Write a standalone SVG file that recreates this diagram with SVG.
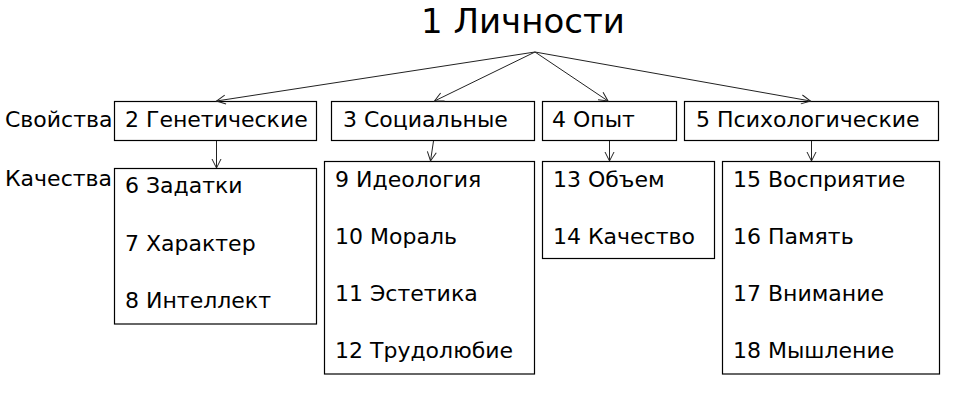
<svg xmlns="http://www.w3.org/2000/svg" width="957" height="400" viewBox="0 0 957 400">
<defs>
<marker id="arr" markerWidth="12" markerHeight="12" refX="10" refY="5" orient="auto" markerUnits="userSpaceOnUse">
<path d="M1,0.5 L10,5 L1,9.5" fill="none" stroke="#222" stroke-width="1"/>
</marker>
</defs>
<style>
text{font-family:"DejaVu Sans","Liberation Sans",sans-serif;font-size:22px;fill:#000}
.title{font-size:34px}
rect{fill:#fff;stroke:#000;stroke-width:1.2}
.c line{stroke:#222;stroke-width:1;marker-end:url(#arr)}
</style>
<rect x="0" y="0" width="957" height="400" style="stroke:none"/>
<g id="n1"><text class="title" x="421" y="33">1 Личности</text></g>
<g id="labels">
<text x="5" y="127">Свойства</text>
<text x="5" y="186">Качества</text>
</g>
<g id="n2"><rect x="114.5" y="101.5" width="202" height="39"/><text x="125" y="127">2 Генетические</text></g>
<g id="n3"><rect x="331.5" y="101.5" width="203" height="39"/><text x="343" y="127">3 Социальные</text></g>
<g id="n4"><rect x="542.5" y="101.5" width="134" height="39"/><text x="552" y="127">4 Опыт</text></g>
<g id="n5"><rect x="684.5" y="101.5" width="254" height="39"/><text x="696" y="127">5 Психологические</text></g>
<g id="n6"><rect x="114.5" y="168.5" width="202" height="155.5"/>
<text x="125" y="193">6 Задатки</text><text x="125" y="251">7 Характер</text><text x="125" y="308">8 Интеллект</text></g>
<g id="n9"><rect x="324.5" y="161.5" width="210" height="212.5"/>
<text x="335" y="187">9 Идеология</text><text x="335" y="244">10 Мораль</text><text x="335" y="301">11 Эстетика</text><text x="335" y="358">12 Трудолюбие</text></g>
<g id="n13"><rect x="542.5" y="161.5" width="172" height="97"/>
<text x="553" y="187">13 Объем</text><text x="553" y="244">14 Качество</text></g>
<g id="n15"><rect x="722.5" y="161.5" width="217" height="212.5"/>
<text x="733" y="187">15 Восприятие</text><text x="733" y="244">16 Память</text><text x="733" y="301">17 Внимание</text><text x="733" y="358">18 Мышление</text></g>
<g id="connectors" class="c">
<line x1="535" y1="52" x2="216.5" y2="101"/>
<line x1="535" y1="52" x2="434.5" y2="101"/>
<line x1="535" y1="52" x2="608" y2="101"/>
<line x1="535" y1="52" x2="810.5" y2="101"/>
<line x1="216.5" y1="141" x2="216.5" y2="168"/>
<line x1="433.5" y1="141" x2="430.5" y2="161"/>
<line x1="609.5" y1="141" x2="609.5" y2="161"/>
<line x1="811.5" y1="141" x2="811.5" y2="161"/>
</g>
</svg>
